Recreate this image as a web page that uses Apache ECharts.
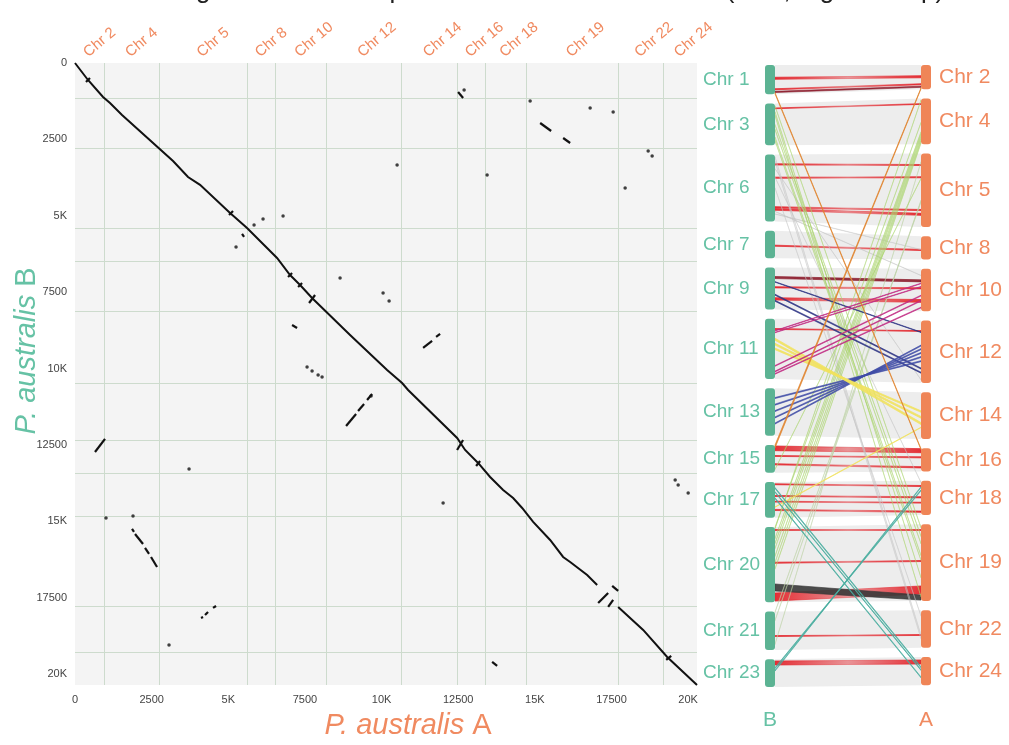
<!DOCTYPE html>
<html><head><meta charset="utf-8">
<script src="https://cdn.jsdelivr.net/npm/echarts@6/dist/echarts.min.js"></script>
<style>html,body{margin:0;padding:0;background:#fff}#c{width:1009px;height:745px}</style>
</head><body><div id="c"></div>
<script>
// ---------------- DATA ----------------
const titleText = 'Whole genome dot comparison of P. australis A vs B (A\u2013B, a gene map)';
const chromA = ['Chr 2','Chr 4','Chr 5','Chr 8','Chr 10','Chr 12','Chr 14','Chr 16','Chr 18','Chr 19','Chr 22','Chr 24'];
const lenA = [946,1795,2871,914,1664,2447,1828,913,1338,3002,1468,1104];
const chromB = ['Chr 1','Chr 3','Chr 6','Chr 7','Chr 9','Chr 11','Chr 13','Chr 15','Chr 17','Chr 20','Chr 21','Chr 23'];
const lenB = [1146,1636,2618,1081,1636,2357,1865,1080,1408,2945,1506,1082];
const tickValues = [0,2500,5000,7500,10000,12500,15000,17500,20000];
const tickLabels = ['0','2500','5K','7500','10K','12500','15K','17500','20K'];

// dot plot: main diagonal (A position, B position), two runs
const diagonalRun1 = [[0,0],[424,556],[914,1113],[1142,1309],[1534,1702],[3198,3208],[3687,3731],[4079,3990],[5058,4910],[5612,5400],[6265,6055],[6591,6382],[7015,6939],[7342,7266],[7733,7692],[8973,8903],[10181,10048],[10670,10474],[10866,10703],[12465,12274],[12726,12667],[13150,13092],[13541,13550],[13966,13976],[14292,14238],[14586,14565],[14945,15023],[15499,15612],[15923,16169],[16152,16332],[16707,16758],[17033,17085]];
const diagonalRun2 = [[17718,17805],[18534,18558],[19317,19442],[20290,20360]];
// short collinear runs [A1,B1,A2,B2]
const segments = [
 [5449,5597,5515,5695],[7081,8575,7244,8673],[12497,949,12660,1146],[15173,1964,15532,2226],
 [15924,2455,16152,2618],[11355,9328,11649,9099],[11780,8968,11910,8870],[8843,11881,9169,11488],
 [9234,11390,9430,11161],[9528,11030,9691,10834],[653,12732,979,12306],[1860,15252,1925,15350],
 [1958,15416,2219,15743],[2284,15874,2415,16071],[2480,16169,2676,16496],[4111,18165,4177,18132],
 [4242,18067,4340,17969],[4503,17838,4601,17773],[13607,19605,13770,19736],
 [12464,12667,12660,12339],[17066,17674,17392,17347],[17392,17805,17555,17576],[17522,17118,17718,17282],
 [7636,7855,7832,7594],[19285,19540,19448,19409],[359,622,489,491],[5025,4975,5155,4844],
 [6950,7004,7081,6873],[7277,7332,7407,7201],[13085,13190,13215,13026]
];
// isolated gene pairs [A,B]
const dots = [[6787,5008],[6134,5106],[5841,5302],[5253,6022],[8647,7037],[12693,884],[14847,1244],[16804,1473],
 [17555,1604],[18697,2880],[18827,3044],[17946,4091],[10507,3338],[13444,3666],[10050,7528],[10246,7790],
 [3720,13288],[1012,14892],[1893,14827],[3067,19049],[9658,10899],[12008,14401],[19578,13648],[19676,13812],
 [20002,14074],[7570,9950],[7734,10080],[7930,10212],[8060,10277]];

// synteny blocks [B start, B end, A start, A end, class]
const sameLinks = [
 [480,560,420,500,'r'],[930,970,735,775,'r'],[1030,1075,830,875,'dr'],[1320,1350,1150,1180,'r'],
 [3140,3190,3170,3210,'r'],[3665,3710,3650,3690,'r'],[4820,4870,4930,4975,'r'],[4895,4960,5080,5160,'r'],
 [5965,6005,6130,6175,'r'],[6830,6910,6960,7040,'dr'],[7230,7275,7270,7315,'r'],[7660,7750,7730,7840,'r'],
 [8505,8540,8585,8615,'r'],[12380,12560,12480,12640,'r'],[12750,12785,12800,12840,'r'],[13070,13115,13185,13235,'r'],
 [13495,13530,13560,13600,'r'],[13950,13990,14000,14045,'r'],[14175,14210,14215,14250,'r'],[14495,14540,14560,14610,'r'],
 [14925,14955,14925,14955,'r'],[16200,16240,16135,16175,'r'],[17405,17718,17131,17444,'r'],[17053,17327,17484,17679,'k'],
 [18710,18745,18670,18705,'r'],[19342,19499,19303,19460,'r']
];
const crossLinks = [
 [2870,2885,18690,18705,'gr'],[3035,3050,18820,18835,'gr'],[4080,4095,17935,17950,'gr'],[3330,3345,10500,10515,'gr'],
 [3660,3675,13435,13450,'gr'],[5000,5015,6780,6795,'gr'],[5100,5115,6130,6145,'gr'],
 [18100,18130,4560,4590,'lg'],[17775,17805,4620,4650,'lg'],[19040,19060,3060,3080,'lg'],
 [1964,1990,15173,15200,'g'],[2150,2176,15460,15487,'g'],[2455,2480,15924,15950,'g'],[2580,2605,16110,16135,'g'],
 [1235,1255,14840,14860,'g'],[1465,1485,16795,16815,'g'],[1595,1615,17545,17565,'g'],
 [15260,15285,2250,2275,'g'],[15450,15475,2340,2365,'g'],[15650,15675,2430,2455,'g'],[15950,15975,2520,2545,'g'],
 [16200,16225,2600,2625,'g'],[16450,16475,2680,2705,'g'],[14880,14900,1000,1020,'g'],[14830,14850,1880,1900,'g'],
 [13280,13300,3710,3730,'g'],
 [7520,7560,10050,10090,'n'],[7760,7800,10210,10250,'n'],[7030,7050,8640,8660,'n'],
 [10840,10880,9760,9800,'b'],[11100,11140,9600,9640,'b'],[11350,11390,9440,9480,'b'],[11600,11640,9290,9330,'b'],[11840,11880,9150,9190,'b'],
 [8880,8960,11820,11900,'y'],[9080,9150,11580,11650,'y'],[9270,9330,11360,11420,'y'],[14395,14415,12000,12020,'y'],
 [9950,9980,7560,7590,'m'],[10170,10200,7760,7790,'m'],[10260,10290,8030,8060,'m'],[8580,8600,7090,7110,'m'],[8650,8670,7220,7240,'m'],
 [13640,13680,19570,19610,'t'],[13800,13830,19680,19710,'t'],[14040,14075,19965,20000,'t'],
 [19600,19640,13730,13770,'t'],[19700,19736,13607,13640,'t'],
 [1080,1130,12480,12520,'o'],[12340,12450,895,935,'o']
];

// ---------------- STYLE / LAYOUT ----------------
const GREEN='#66c2a5', ORANGE='#f08a60', BAR_G='#5cb393', BAR_O='#ef8557';
const LINK_COLORS={r:'#e3262d',dr:'#8c1c2c',k:'#383838',o:'#e0822c',g:'#a9d46e',lg:'#bcd3a6',gr:'#c4c4c4',n:'#2c3282',b:'#3f4ca6',y:'#f1e25e',m:'#c12a82',t:'#47ad9f'};
const LINK_ALPHA={g:0.7,lg:0.7,gr:0.6};
const FONT='"Liberation Sans", Arial, sans-serif';
const GAP=362, BAR_HALF=5;

const sum=a=>a.reduce((s,v)=>s+v,0);
const cum=a=>{const o=[];let s=0;for(const v of a){o.push(s);s+=v;}return o;};
const totalA=sum(lenA), totalB=sum(lenB);
const startsA=cum(lenA), startsB=cum(lenB);
const synMax=Math.max(totalA,totalB)+GAP*(lenB.length-1);
function idxOf(starts,lens,p){for(let i=0;i<starts.length;i++){if(p<starts[i]+lens[i])return i;}return starts.length-1;}
function fmt(v){const i=tickValues.indexOf(v);return i>=0?tickLabels[i]:'';}
function rgba(hex,a){const n=parseInt(hex.slice(1),16);return 'rgba('+(n>>16&255)+','+(n>>8&255)+','+(n&255)+','+a+')';}

const boundLines=[];
startsA.slice(1).forEach(b=>boundLines.push({coords:[[b,0],[b,totalB]]}));
startsB.slice(1).forEach(b=>boundLines.push({coords:[[0,b],[totalA,b]]}));

const allLinks=sameLinks.concat(crossLinks);

function linkRender(params,api){
  const L=allLinks[params.dataIndex];
  const iB=idxOf(startsB,lenB,(L[0]+L[1])/2), iA=idxOf(startsA,lenA,(L[2]+L[3])/2);
  const xb=api.coord([0,0])[0]+BAR_HALF, xa=api.coord([1,0])[0]-BAR_HALF;
  const yb1=api.coord([0,L[0]+iB*GAP])[1], yb2=api.coord([0,L[1]+iB*GAP])[1];
  const ya1=api.coord([1,L[2]+iA*GAP])[1], ya2=api.coord([1,L[3]+iA*GAP])[1];
  const c=LINK_COLORS[L[4]];
  const a=LINK_ALPHA[L[4]]||0.9;
  let fill=rgba(c,a), stroke=rgba(c,a*0.9), lw=(L[4]==='g'||L[4]==='gr'||L[4]==='lg')?0.6:0.8;
  if(L[4]==='r'){
    fill=new echarts.graphic.LinearGradient(0,0,1,0,[{offset:0,color:rgba(c,0.95)},{offset:0.5,color:rgba(c,0.45)},{offset:1,color:rgba(c,0.95)}]);
    stroke=fill;
  }
  return {type:'polygon',shape:{points:[[xb,yb1],[xa,ya1],[xa,ya2],[xb,yb2]]},style:{fill:fill,stroke:stroke,lineWidth:lw}};
}

function ribbonRender(params,api){
  const i=params.dataIndex;
  const xb=api.coord([0,0])[0]+BAR_HALF, xa=api.coord([1,0])[0]-BAR_HALF;
  const yb1=api.coord([0,startsB[i]+i*GAP])[1], yb2=api.coord([0,startsB[i]+lenB[i]+i*GAP])[1];
  const ya1=api.coord([1,startsA[i]+i*GAP])[1], ya2=api.coord([1,startsA[i]+lenA[i]+i*GAP])[1];
  return {type:'polygon',shape:{points:[[xb,yb1],[xa,ya1],[xa,ya2],[xb,yb2]]},style:{fill:'#ededed'}};
}

const barItems=[];
chromB.forEach((n,i)=>barItems.push({side:0,i:i}));
chromA.forEach((n,i)=>barItems.push({side:1,i:i}));
barItems.push({side:0,i:-1});barItems.push({side:1,i:-1});

function barRender(params,api){
  const it=barItems[params.dataIndex];
  const cx=api.coord([it.side,0])[0];
  if(it.i<0){
    const yb=api.coord([it.side,synMax])[1]+33;
    return {type:'text',x:cx,y:yb,style:{text:it.side===0?'B':'A',fill:it.side===0?GREEN:ORANGE,fontSize:21,fontFamily:FONT,align:'center',verticalAlign:'middle'}};
  }
  const starts=it.side===0?startsB:startsA, lens=it.side===0?lenB:lenA, names=it.side===0?chromB:chromA;
  const y1=api.coord([it.side,starts[it.i]+it.i*GAP])[1], y2=api.coord([it.side,starts[it.i]+lens[it.i]+it.i*GAP])[1];
  const ym=(y1+y2)/2;
  return {type:'group',children:[
    {type:'rect',shape:{x:cx-BAR_HALF,y:y1,width:BAR_HALF*2,height:y2-y1,r:3},style:{fill:it.side===0?BAR_G:BAR_O}},
    {type:'text',x:it.side===0?cx-67:cx+13,y:ym,style:{text:names[it.i],fill:it.side===0?GREEN:ORANGE,fontSize:it.side===0?19:21,fontFamily:FONT,align:'left',verticalAlign:'middle'}}
  ]};
}

const option={
  animation:false,
  backgroundColor:'#ffffff',
  textStyle:{fontFamily:FONT},
  title:{text:titleText,left:110,top:-27,textStyle:{fontSize:26,fontWeight:'normal',color:'#222',fontFamily:FONT}},
  grid:[
    {left:75,top:63,width:622,height:622,show:true,backgroundColor:'#f4f4f4',borderWidth:0,outerBoundsMode:'none',containLabel:false},
    {left:770,top:65,width:156,height:622,outerBoundsMode:'none',containLabel:false}
  ],
  xAxis:[
    {gridIndex:0,type:'value',min:0,max:totalA,interval:2500,axisLine:{show:false},axisTick:{show:false},splitLine:{show:false},
     axisLabel:{fontSize:11,color:'#444',margin:9,formatter:fmt},
     name:'{i|P. australis }{r|A}',nameLocation:'middle',nameGap:26,nameMoveOverlap:false,
     nameTextStyle:{fontSize:29,color:ORANGE,padding:[0,0,0,44],rich:{i:{fontStyle:'italic',fontSize:29,color:ORANGE,fontFamily:FONT},r:{fontSize:29,color:ORANGE,fontFamily:FONT}}}},
    {gridIndex:1,type:'value',min:0,max:1,show:false}
  ],
  yAxis:[
    {gridIndex:0,type:'value',inverse:true,min:0,max:totalB,interval:2500,axisLine:{show:false},axisTick:{show:false},splitLine:{show:false},
     axisLabel:{fontSize:11,color:'#444',margin:8,formatter:fmt},
     name:'{i|P. australis }{r|B}',nameLocation:'middle',nameRotate:90,nameGap:34,nameMoveOverlap:false,
     nameTextStyle:{fontSize:29,color:GREEN,padding:[0,0,0,46],rich:{i:{fontStyle:'italic',fontSize:29,color:GREEN,fontFamily:FONT},r:{fontSize:29,color:GREEN,fontFamily:FONT}}}},
    {gridIndex:1,type:'value',inverse:true,min:0,max:synMax,show:false}
  ],
  series:[
    {type:'lines',coordinateSystem:'cartesian2d',xAxisIndex:0,yAxisIndex:0,silent:true,data:boundLines,
     lineStyle:{color:'#cddbcd',width:1,opacity:1}},
    {type:'lines',coordinateSystem:'cartesian2d',xAxisIndex:0,yAxisIndex:0,polyline:true,silent:true,
     data:[{coords:diagonalRun1},{coords:diagonalRun2}],lineStyle:{color:'#111',width:2,opacity:1}},
    {type:'lines',coordinateSystem:'cartesian2d',xAxisIndex:0,yAxisIndex:0,silent:true,
     data:segments.map(s=>({coords:[[s[0],s[1]],[s[2],s[3]]]})),lineStyle:{color:'#111',width:2.2,opacity:1}},
    {type:'scatter',xAxisIndex:0,yAxisIndex:0,data:dots,symbolSize:3.5,itemStyle:{color:'#111'},silent:true},
    {type:'custom',xAxisIndex:0,yAxisIndex:0,silent:true,clip:false,
     data:chromA.map((n,i)=>[startsA[i]+lenA[i]/2,0]),
     renderItem:(params,api)=>{const p=api.coord([api.value(0),0]);
       return {type:'text',x:p[0]+1,y:p[1]-3,rotation:40*Math.PI/180,
         style:{text:chromA[params.dataIndex],fill:ORANGE,fontSize:15,fontFamily:FONT,align:'left',verticalAlign:'bottom'}};}},
    {type:'custom',xAxisIndex:1,yAxisIndex:1,silent:true,clip:false,data:chromB.map((n,i)=>[0,i]),renderItem:ribbonRender},
    {type:'custom',xAxisIndex:1,yAxisIndex:1,silent:true,clip:false,data:allLinks.map((l,i)=>[0,i]),renderItem:linkRender},
    {type:'custom',xAxisIndex:1,yAxisIndex:1,silent:true,clip:false,data:barItems.map((b,i)=>[b.side,i]),renderItem:barRender}
  ]
};
const chart=echarts.init(document.getElementById('c'),null,{renderer:'canvas'});
chart.setOption(option);
</script></body></html>
